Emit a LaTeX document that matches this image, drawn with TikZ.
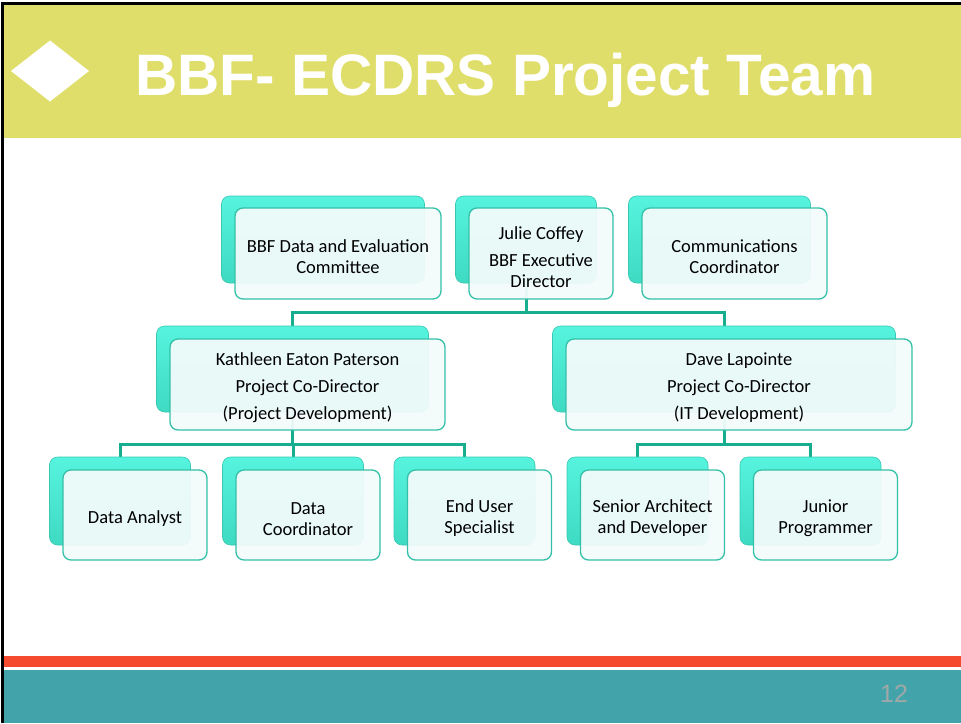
\documentclass[tikz,border=0pt]{standalone}
\usepackage{fontspec}
\setmainfont{Carlito}
\newfontfamily\titlefont{Liberation Sans}
\usetikzlibrary{backgrounds}
\definecolor{headyellow}{RGB}{224,222,106}
\definecolor{barred}{RGB}{246,74,47}
\definecolor{barteal}{RGB}{67,163,170}
\definecolor{pagegrey}{RGB}{160,168,168}
\definecolor{aquatop}{RGB}{86,243,222}
\definecolor{aquabot}{RGB}{62,218,194}
\definecolor{aquaedge}{RGB}{58,200,178}
\definecolor{boxedge}{RGB}{52,192,168}
\definecolor{boxfill}{RGB}{242,251,251}
\definecolor{linkteal}{RGB}{22,174,142}
\newcommand\boxstrut{\rule{0pt}{19.5pt}}
\begin{document}
\begin{tikzpicture}[x=1pt, y=-1pt,
    back/.style={rounded corners=8pt, top color=aquatop, bottom color=aquabot, draw=aquaedge, line width=.6pt, inner sep=0pt},
    front/.style={rounded corners=8pt, draw=boxedge, line width=1.3pt, fill=boxfill, fill opacity=.95, text opacity=1, inner sep=0pt, align=center, font=\fontsize{18.5}{21}\selectfont},
    link/.style={draw=linkteal, line width=3pt}]
    \useasboundingbox (0,0) rectangle (961,723);

    % header and footer
    \fill[headyellow] (4,5) rectangle (961,138);
    \fill[white] (11,71) -- (50,40.5) -- (89,71) -- (50,101.5) -- cycle;
    \node[anchor=base west, inner sep=0pt, text=white, font=\titlefont\fontsize{58.5}{60}\bfseries] (title) at (135,95) {BBF- ECDRS Project Team};
    \fill[barred] (4,656) rectangle (961,667);
    \fill[barteal] (4,670) rectangle (961,723);
    \node[anchor=base west, inner sep=0pt, text=pagegrey, font=\titlefont\fontsize{25}{27}\selectfont] (page) at (880,702) {12};
    \draw[black, line width=3pt] (2.5,723) -- (2.5,3.5) -- (961,3.5);

    % top row
    \node[back, minimum width=203pt, minimum height=87pt] (dec') at (323,239.5) {};
    \node[back, minimum width=141pt, minimum height=87pt] (jc') at (526,239.5) {};
    \node[back, minimum width=182pt, minimum height=87pt] (cc') at (719.5,239.5) {};
    \node[front, minimum width=206pt, minimum height=91pt] (dec) at (338,253.5) {\boxstrut BBF Data and Evaluation\\Committee};
    \node[front, minimum width=144pt, minimum height=91pt] (jc) at (541,253.5) {\boxstrut Julie Coffey\\[6pt]BBF Executive\\Director};
    \node[front, minimum width=185pt, minimum height=91pt] (cc) at (734.5,253.5) {\boxstrut Communications\\Coordinator};

    % co-directors
    \node[back, minimum width=272pt, minimum height=86pt] (kp') at (292.5,369) {};
    \node[back, minimum width=343pt, minimum height=86pt] (dl') at (724,369) {};
    \node[front, minimum width=275pt, minimum height=91pt] (kp) at (307.5,384.5) {\boxstrut Kathleen Eaton Paterson\\[6pt]Project Co-Director\\[6pt](Project Development)};
    \node[front, minimum width=346pt, minimum height=91pt] (dl) at (739,384.5) {\boxstrut Dave Lapointe\\[6pt]Project Co-Director\\[6pt](IT Development)};

    % staff
    \node[back, minimum width=141pt, minimum height=88pt] (da') at (120,501) {};
    \node[back, minimum width=141pt, minimum height=88pt] (dc') at (293,501) {};
    \node[back, minimum width=141pt, minimum height=88pt] (eu') at (464.5,501) {};
    \node[back, minimum width=141pt, minimum height=88pt] (sa') at (637.5,501) {};
    \node[back, minimum width=141pt, minimum height=88pt] (jp') at (810.5,501) {};
    \node[front, minimum width=144pt, minimum height=90pt] (da) at (135,515) {\boxstrut Data Analyst};
    \node[front, minimum width=144pt, minimum height=90pt] (dc) at (308,515) {\boxstrut Data\\Coordinator};
    \node[front, minimum width=144pt, minimum height=90pt] (eu) at (479.5,515) {\boxstrut End User\\Specialist};
    \node[front, minimum width=144pt, minimum height=90pt] (sa) at (652.5,515) {\boxstrut Senior Architect\\and Developer};
    \node[front, minimum width=144pt, minimum height=90pt] (jp) at (825.5,515) {\boxstrut Junior\\Programmer};

    \begin{scope}[on background layer]
        \draw[link] (jc'.south) -- ++(0,29) -| (kp'.north);
        \draw[link] (jc'.south) -- ++(0,29) -| (dl'.north);
        \draw[link] (kp'.south) -- ++(0,32) -| (da'.north);
        \draw[link] (kp'.south) -- ++(0,32) -| (dc'.north);
        \draw[link] (kp'.south) -- ++(0,32) -| (eu'.north);
        \draw[link] (dl'.south) -- ++(0,32) -| (sa'.north);
        \draw[link] (dl'.south) -- ++(0,32) -| (jp'.north);
    \end{scope}
\end{tikzpicture}
\end{document}
